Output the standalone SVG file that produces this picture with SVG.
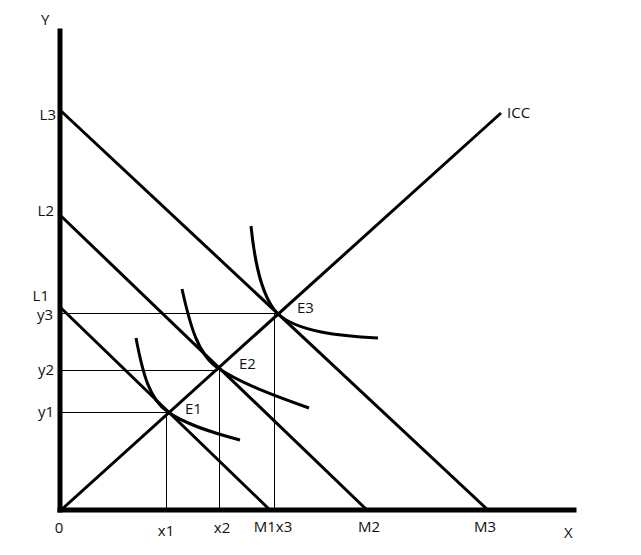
<svg xmlns="http://www.w3.org/2000/svg" width="641" height="555" viewBox="0 0 641 555">
<style>
.lbl{font-family:"Open Sans","Noto Sans",sans-serif;font-size:15px;fill:#111}
.end{text-anchor:end}
.mid{text-anchor:middle}
.axis{stroke:#000;stroke-width:5;fill:none;stroke-linecap:square}
.thick{stroke:#000;stroke-width:3;fill:none}
.guide{stroke:#000;stroke-width:1;fill:none}
</style>
<rect width="641" height="555" fill="#fff"/>
<g id="connectors">
<g id="guides">
<line class="guide" x1="61" y1="313.5" x2="278" y2="313.5"/>
<line class="guide" x1="61" y1="370.5" x2="218" y2="370.5"/>
<line class="guide" x1="61" y1="412.5" x2="168" y2="412.5"/>
<line class="guide" x1="166.5" y1="412" x2="166.5" y2="510"/>
<line class="guide" x1="219.5" y1="368" x2="219.5" y2="510"/>
<line class="guide" x1="274.5" y1="314" x2="274.5" y2="510"/>
</g>
<g id="budget-lines">
<line class="thick" x1="61" y1="111" x2="488" y2="510"/>
<line class="thick" x1="61" y1="216" x2="367" y2="510"/>
<line class="thick" x1="61" y1="308" x2="270" y2="510"/>
</g>
<g id="icc-line">
<line class="thick" x1="61" y1="510" x2="501" y2="113"/>
</g>
<g id="indifference-curves">
<path class="thick" d="M136,338 C143,375 150,400 168,412 C185,424 210,432 240,440"/>
<path class="thick" d="M182,289 C190,325 198,355 218,368 C240,383 275,396 309,408"/>
<path class="thick" d="M251,226 C255,265 262,298 278,314 C298,332 340,336 378,338"/>
</g>
</g>
<g id="axes">
<line class="axis" x1="60" y1="31" x2="60" y2="510"/>
<line class="axis" x1="60" y1="510" x2="574" y2="510"/>
</g>
<g id="labels">
<text class="lbl" x="41" y="25">Y</text>
<text class="lbl" x="564" y="538">X</text>
<text class="lbl end" x="56" y="120">L3</text>
<text class="lbl end" x="54" y="216">L2</text>
<text class="lbl end" x="49" y="301">L1</text>
<text class="lbl end" x="53" y="320">y3</text>
<text class="lbl end" x="54" y="375">y2</text>
<text class="lbl end" x="54" y="417">y1</text>
<text class="lbl mid" x="59" y="533">0</text>
<text class="lbl mid" x="166" y="536">x1</text>
<text class="lbl mid" x="222" y="533">x2</text>
<text class="lbl mid" x="273" y="532">M1x3</text>
<text class="lbl mid" x="369" y="532">M2</text>
<text class="lbl mid" x="485" y="532">M3</text>
<text class="lbl" x="185" y="414">E1</text>
<text class="lbl" x="239" y="369">E2</text>
<text class="lbl" x="297" y="313">E3</text>
<text class="lbl" x="507" y="118">ICC</text>
</g>
</svg>
